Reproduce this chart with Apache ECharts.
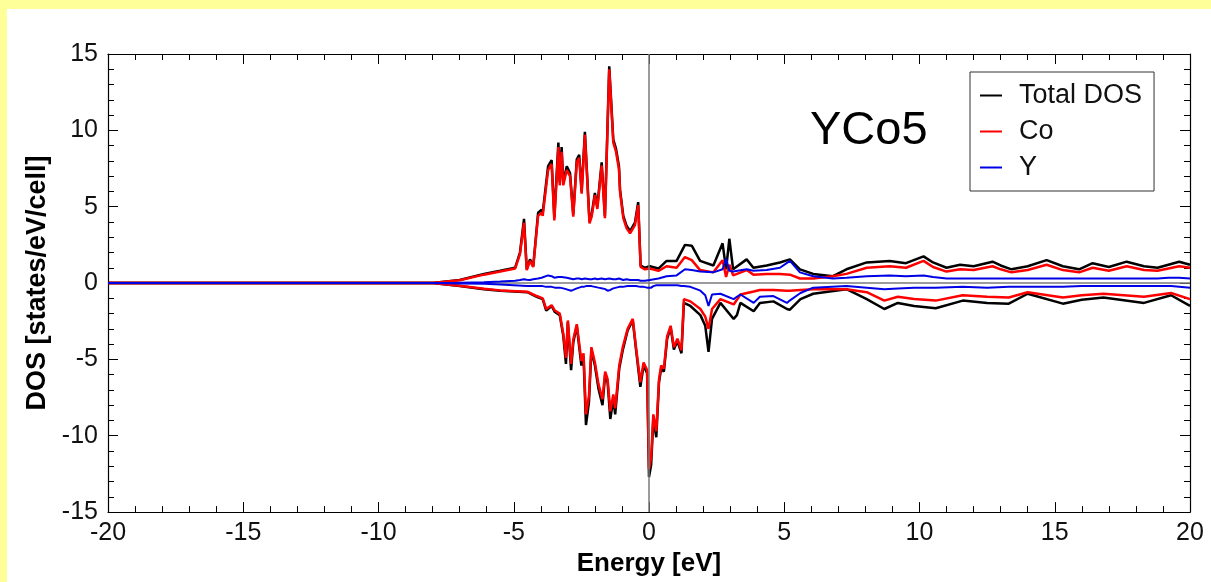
<!DOCTYPE html>
<html>
<head>
<meta charset="utf-8">
<script src="https://cdn.jsdelivr.net/npm/echarts@6/dist/echarts.min.js"></script>
<style>
html,body{margin:0;padding:0;background:#ffff99;}
#chart{width:1211px;height:582px;}
</style>
</head>
<body>
<div id="chart"></div>
<script>
// Spin-up (positive) curves
const energyUp = [
  -20, -8, -7, -6.1, -5.5, -4.95, -4.77, -4.62, -4.52, -4.4,
  -4.28, -4.1, -3.97, -3.93, -3.73, -3.6, -3.5, -3.35, -3.3, -3.23,
  -3.17, -3.04, -2.92, -2.8, -2.67, -2.58, -2.49, -2.37, -2.2, -2.12,
  -2.0, -1.91, -1.75, -1.63, -1.47, -1.32, -1.22, -1.11, -1.07, -0.95,
  -0.83, -0.7, -0.52, -0.4, -0.31, -0.15, 0.03, 0.35, 0.65, 1.02,
  1.33, 1.58, 1.89, 2.38, 2.72, 2.85, 2.97, 3.11, 3.61, 3.86,
  4.35, 4.84, 5.21, 5.58, 6.07, 6.8, 7.3, 8.05, 8.9, 9.5,
  10.15, 10.5, 11.0, 11.5, 12.0, 12.7, 13.0, 13.4, 14.0, 14.7,
  15.3, 15.9, 16.4, 17.0, 17.66, 18.3, 18.8, 19.2, 19.6, 20
];
const totalUp = [
  0, 0, 0.2, 0.6, 0.8, 1.0, 2.0, 4.2, 0.9, 1.55,
  1.1, 4.6, 4.8, 4.6, 7.65, 8.05, 4.3, 9.2, 6.6, 8.9,
  6.6, 7.65, 7.2, 4.5, 8.1, 8.4, 6.0, 9.9, 4.05, 4.5,
  5.9, 5.0, 7.9, 4.4, 14.2, 9.4, 8.8, 7.65, 6.1, 4.4,
  3.75, 3.4, 3.95, 5.3, 1.15, 1.0, 1.1, 0.95, 1.45, 1.45,
  2.5, 2.45, 1.45, 1.15, 2.6, 0.9, 2.9, 0.9, 1.55, 1.0,
  1.15, 1.35, 1.55, 0.9, 0.6, 0.45, 0.9, 1.35, 1.45, 1.3,
  1.75, 1.35, 1.0, 1.2, 1.1, 1.4, 1.15, 0.9, 1.1, 1.5,
  1.1, 0.9, 1.3, 1.05, 1.4, 1.1, 1.0, 1.2, 1.4, 1.2
];
const coUp = [
  0, 0, 0.18, 0.55, 0.75, 0.95, 1.9, 3.95, 0.85, 1.45,
  1.05, 4.4, 4.6, 4.4, 7.4, 7.8, 4.1, 8.9, 6.4, 8.6,
  6.4, 7.4, 7.0, 4.35, 7.9, 8.2, 5.85, 9.7, 3.9, 4.35,
  5.75, 4.85, 7.7, 4.25, 14.0, 9.2, 8.6, 7.45, 5.95, 4.25,
  3.6, 3.25, 3.8, 5.1, 1.05, 0.9, 0.95, 0.8, 1.1, 1.0,
  1.7, 1.5, 0.85, 0.7, 1.5, 0.4, 1.2, 0.5, 0.85, 0.55,
  0.6, 0.6, 0.55, 0.3, 0.3, 0.45, 0.6, 1.0, 1.1, 1.0,
  1.45, 1.05, 0.75, 0.9, 0.85, 1.1, 0.9, 0.7, 0.85, 1.2,
  0.85, 0.7, 1.0, 0.8, 1.1, 0.85, 0.8, 0.95, 1.1, 1.0
];
const yUp = [
  0, 0, 0.02, 0.05, 0.1, 0.15, 0.2, 0.25, 0.22, 0.2,
  0.25, 0.3, 0.35, 0.35, 0.5, 0.45, 0.35, 0.4, 0.35, 0.4,
  0.35, 0.35, 0.3, 0.25, 0.3, 0.3, 0.25, 0.3, 0.25, 0.25,
  0.3, 0.25, 0.3, 0.25, 0.3, 0.25, 0.25, 0.3, 0.25, 0.2,
  0.25, 0.2, 0.2, 0.2, 0.15, 0.15, 0.2, 0.3, 0.45, 0.5,
  0.9, 0.85, 0.75, 0.7, 0.9, 1.6, 0.8, 0.75, 0.9, 0.8,
  0.85, 1.0, 1.45, 0.7, 0.45, 0.3, 0.35, 0.45, 0.5, 0.45,
  0.5, 0.4, 0.3, 0.3, 0.3, 0.3, 0.3, 0.3, 0.3, 0.3,
  0.3, 0.3, 0.3, 0.3, 0.3, 0.3, 0.3, 0.35, 0.35, 0.3
];
// Spin-down (negative) curves
const energyDn = [
  -20, -8, -7, -6.1, -5.5, -4.5, -4.15, -3.93, -3.8, -3.6,
  -3.48, -3.3, -3.17, -3.07, -3.0, -2.88, -2.8, -2.67, -2.5, -2.42,
  -2.33, -2.22, -2.13, -2.0, -1.87, -1.72, -1.62, -1.53, -1.43, -1.32,
  -1.25, -1.1, -0.97, -0.79, -0.6, -0.48, -0.32, -0.2, -0.07, 0.0,
  0.08, 0.16, 0.27, 0.37, 0.45, 0.55, 0.67, 0.8, 0.92, 1.05,
  1.2, 1.29, 1.53, 1.9, 2.08, 2.2, 2.33, 2.64, 3.13, 3.25,
  3.38, 3.87, 4.1, 4.6, 5.1, 5.2, 5.6, 6.07, 7.3, 8.05,
  8.7, 9.2, 9.8, 10.6, 11.6, 12.5, 13.3, 14.0, 15.3, 16.0,
  16.8, 18.3, 19.3, 20
];
const totalDn = [
  0, 0, -0.2, -0.4, -0.5, -0.6, -0.9, -1.05, -1.8, -1.5,
  -1.9, -2.1, -3.45, -5.3, -2.55, -5.7, -3.9, -2.8, -5.4, -4.8,
  -9.3, -7.8, -4.4, -5.4, -6.9, -8.0, -6.0, -6.5, -8.9, -7.6,
  -8.6, -5.6, -4.4, -3.1, -2.45, -4.35, -6.8, -5.4, -5.9, -12.7,
  -11.9, -8.9, -10.1, -6.5, -5.6, -5.8, -3.65, -2.9, -4.35, -3.8,
  -4.6, -1.3, -1.5, -2.1, -2.8, -4.5, -2.35, -1.3, -2.35, -2.1,
  -1.3, -1.85, -1.3, -1.2, -1.7, -1.75, -1.05, -0.7, -0.4, -1.05,
  -1.7, -1.3, -1.5, -1.65, -1.15, -1.3, -1.35, -0.7, -1.35, -1.1,
  -0.95, -1.3, -0.8, -1.5
];
const coDn = [
  0, 0, -0.18, -0.38, -0.48, -0.57, -0.85, -1.0, -1.7, -1.45,
  -1.8, -2.0, -3.3, -4.9, -2.45, -5.3, -3.7, -2.7, -5.1, -4.6,
  -8.6, -7.4, -4.2, -5.2, -6.6, -7.6, -5.8, -6.3, -8.4, -7.3,
  -8.2, -5.4, -4.2, -3.0, -2.35, -4.2, -6.5, -5.2, -5.7, -12.2,
  -11.4, -8.6, -9.7, -6.3, -5.4, -5.6, -3.5, -2.8, -4.2, -3.65,
  -4.4, -1.05, -1.2, -1.7, -2.2, -3.0, -1.7, -1.05, -1.4, -1.1,
  -0.75, -0.55, -0.45, -0.45, -0.5, -0.5, -0.45, -0.4, -0.4, -0.6,
  -1.15, -0.9, -1.05, -1.15, -0.8, -0.9, -0.95, -0.6, -0.95, -0.8,
  -0.7, -0.9, -0.65, -1.05
];
const yDn = [
  0, 0, -0.03, -0.05, -0.1, -0.2, -0.2, -0.2, -0.25, -0.25,
  -0.3, -0.3, -0.35, -0.4, -0.4, -0.5, -0.45, -0.35, -0.25, -0.25,
  -0.2, -0.2, -0.2, -0.25, -0.3, -0.35, -0.4, -0.5, -0.45, -0.35,
  -0.3, -0.25, -0.25, -0.2, -0.2, -0.2, -0.25, -0.25, -0.3, -0.4,
  -0.3, -0.2, -0.15, -0.15, -0.15, -0.15, -0.15, -0.15, -0.15, -0.15,
  -0.2, -0.2, -0.25, -0.5, -0.8, -1.5, -0.75, -0.7, -1.05, -0.9,
  -0.75, -1.3, -0.9, -0.85, -1.3, -1.15, -0.65, -0.3, -0.2, -0.3,
  -0.4, -0.35, -0.3, -0.3, -0.25, -0.3, -0.25, -0.25, -0.25, -0.2,
  -0.2, -0.2, -0.2, -0.3
];
const seriesNames = ['Total DOS', 'Co', 'Y'];
const seriesColors = ['#000000', '#ff0000', '#0000e6'];
const xRange = [-20, 20];
const yRange = [-15, 15];

const FONT = '"Liberation Sans", Arial, Helvetica, sans-serif';
const zip = (xs, ys) => xs.map((x, i) => [x, ys[i]]);

const upSets = [totalUp, coUp, yUp];
const dnSets = [totalDn, coDn, yDn];
const widths = [2.5, 2.5, 2];

const series = [];
for (let k = 0; k < 3; k++) {
  const common = {
    type: 'line', name: seriesNames[k], showSymbol: false, symbol: 'none',
    lineStyle: { color: seriesColors[k], width: widths[k] },
    itemStyle: { color: seriesColors[k] },
    z: 3 + k, animation: false
  };
  series.push(Object.assign({}, common, { data: zip(energyUp, upSets[k]) }));
  series.push(Object.assign({}, common, { data: zip(energyDn, dnSets[k]) }));
}
series[0].markLine = {
  silent: true, symbol: ['none', 'none'], animation: false,
  label: { show: false },
  lineStyle: { color: '#7a7a7a', width: 1.5, type: 'solid' },
  data: [{ xAxis: 0 }, { yAxis: 0 }]
};

const tickBase = {
  axisLine: { show: true, onZero: false, lineStyle: { color: '#000', width: 1.2 } },
  axisTick: { show: true, inside: true, length: 10, lineStyle: { color: '#000', width: 1 } },
  minorTick: { show: true, splitNumber: 5, length: 6, lineStyle: { color: '#000', width: 1 } },
  splitLine: { show: false },
  minorSplitLine: { show: false }
};

const option = {
  backgroundColor: '#ffff99',
  animation: false,
  graphic: [
    { type: 'rect', left: 7, top: 9, shape: { width: 1204, height: 573 }, style: { fill: '#ffffff' }, z: -10, silent: true },
    { type: 'text', left: 810, top: 108, style: { text: 'YCo5', font: '47px ' + FONT, fill: '#000' }, z: 10 }
  ],
  grid: { left: 108, right: 21, top: 54, bottom: 69 },
  legend: {
    orient: 'vertical', left: 970, top: 72,
    data: seriesNames,
    icon: 'rect', itemWidth: 22, itemHeight: 2, itemGap: 9,
    padding: [10, 12, 10, 10],
    backgroundColor: '#ffffff',
    borderColor: '#333', borderWidth: 1, borderRadius: 0,
    textStyle: { fontFamily: FONT, fontSize: 27, color: '#111', lineHeight: 27, padding: [0, 0, 0, 12] }
  },
  xAxis: [
    Object.assign({
      type: 'value', min: xRange[0], max: xRange[1], interval: 5, position: 'bottom',
      name: 'Energy [eV]', nameLocation: 'middle', nameGap: 33,
      nameTextStyle: { fontFamily: FONT, fontSize: 26, fontWeight: 'bold', color: '#000' },
      axisLabel: { fontFamily: FONT, fontSize: 25, color: '#111', margin: 9 }
    }, tickBase),
    Object.assign({
      type: 'value', min: xRange[0], max: xRange[1], interval: 5, position: 'top',
      axisLabel: { show: false }
    }, tickBase)
  ],
  yAxis: [
    Object.assign({
      type: 'value', min: yRange[0], max: yRange[1], interval: 5, position: 'left',
      name: 'DOS [states/eV/cell]', nameLocation: 'middle', nameGap: 57, nameRotate: 90,
      nameTextStyle: { fontFamily: FONT, fontSize: 27, fontWeight: 'bold', color: '#000' },
      axisLabel: { fontFamily: FONT, fontSize: 25, color: '#111', margin: 10 }
    }, tickBase),
    Object.assign({
      type: 'value', min: yRange[0], max: yRange[1], interval: 5, position: 'right',
      axisLabel: { show: false }
    }, tickBase)
  ],
  series: series
};

const chart = echarts.init(document.getElementById('chart'), null, { renderer: 'canvas' });
chart.setOption(option);
</script>
</body>
</html>
